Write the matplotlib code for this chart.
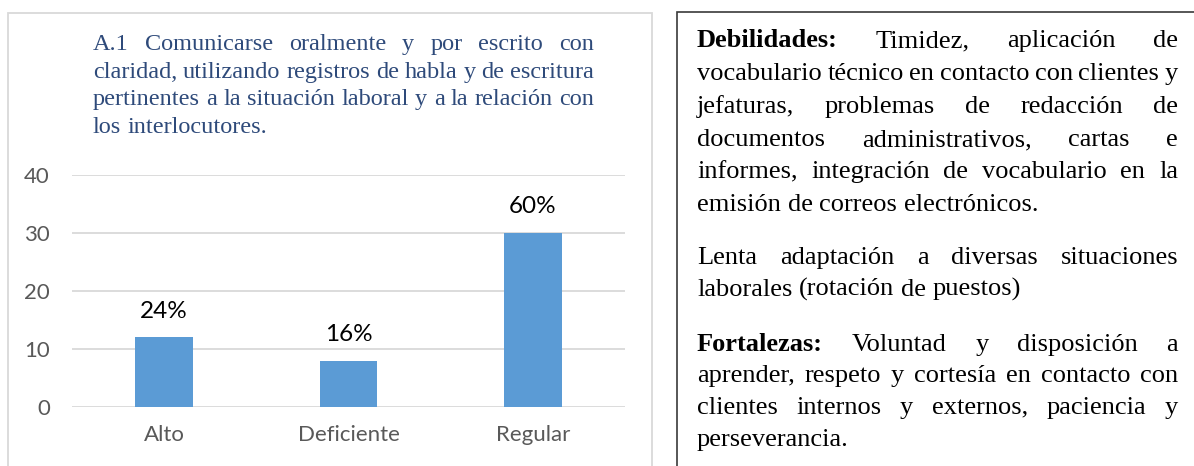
import matplotlib
matplotlib.use("Agg")
import matplotlib.pyplot as plt
from matplotlib.patches import Rectangle

W, H = 1194, 466

categories = ["Alto", "Deficiente", "Regular"]
counts = [12, 8, 30]
pct_labels = ["24%", "16%", "60%"]
y_ticks = [0, 10, 20, 30, 40]

chart_title = [
    "A.1 Comunicarse oralmente y por escrito con",
    "claridad, utilizando registros de habla y de escritura",
    "pertinentes a la situación laboral y a la relación con",
    "los interlocutores.",
]

debilidades_lines = [
    "Timidez, aplicación de",
    "vocabulario técnico en contacto con clientes y",
    "jefaturas, problemas de redacción de",
    "documentos administrativos, cartas e",
    "informes, integración de vocabulario en la",
    "emisión de correos electrónicos.",
]
lenta_lines = [
    "Lenta adaptación a diversas situaciones",
    "laborales (rotación de puestos)",
]
fortalezas_lines = [
    "Voluntad y disposición a",
    "aprender, respeto y cortesía en contacto con",
    "clientes internos y externos, paciencia y",
    "perseverancia.",
]

SANS = ["Lato", "DejaVu Sans"]
SERIF = ["Liberation Serif", "DejaVu Serif"]


def fx(px):
    return px / W


def fy(py):
    return 1 - py / H


fig = plt.figure(figsize=(W / 100, H / 100), dpi=100)
renderer = fig.canvas.get_renderer()


def draw_line(words, x0, x1, y, justify, size, color):
    # words: list of (text, weight); justified lines spread the gaps to x1
    objs = []
    widths = []
    for w, weight in words:
        t = fig.text(fx(x0), fy(y), w, fontsize=size, family=SERIF,
                     weight=weight, color=color, va="baseline", ha="left")
        objs.append(t)
        widths.append(t.get_window_extent(renderer).width)
    if justify and len(words) > 1:
        gap = (x1 - x0 - sum(widths)) / (len(words) - 1)
    else:
        sp = fig.text(0, 0, "a a", fontsize=size, family=SERIF)
        sp2 = fig.text(0, 0, "aa", fontsize=size, family=SERIF)
        gap = sp.get_window_extent(renderer).width - sp2.get_window_extent(renderer).width
        sp.remove()
        sp2.remove()
    x = x0
    for t, wd in zip(objs, widths):
        t.set_x(fx(x))
        x += wd + gap


# chart frame (light grey) and text box frame (dark)
fig.patches.append(Rectangle((fx(8), fy(470)), fx(652 - 8), (470 - 13) / H,
                             transform=fig.transFigure, fill=False,
                             edgecolor="#D9D9D9", linewidth=1.3))
fig.patches.append(Rectangle((fx(677), fy(480)), fx(560), (480 - 12) / H,
                             transform=fig.transFigure, fill=False,
                             edgecolor="#3a3a3a", linewidth=1.2))

# chart title
title_base = [50, 78, 105, 133]
for i, line in enumerate(chart_title):
    words = [(w, "normal") for w in line.split()]
    draw_line(words, 93, 594, title_base[i], i < len(chart_title) - 1, 17.5, "#2E4A7A")

# bar chart
ax = fig.add_axes([fx(72), fy(407), fx(625 - 72), (407 - 175) / H])
x = list(range(len(categories)))
ax.bar(x, counts, width=0.314, color="#5B9BD5", zorder=2)
ax.set_xlim(-0.5, 2.5)
ax.set_ylim(0, 40)
ax.set_yticks(y_ticks)
ax.set_xticks(x)
ax.set_xticklabels(categories)
ax.yaxis.grid(True, color="#D9D9D9", linewidth=1.3, zorder=0)
ax.set_axisbelow(True)
for s in ax.spines.values():
    s.set_visible(False)
ax.tick_params(axis="y", length=0, pad=16, labelsize=16, labelcolor="#595959")
ax.tick_params(axis="x", length=0, pad=13, labelsize=16, labelcolor="#595959")
for lab in ax.get_xticklabels() + ax.get_yticklabels():
    lab.set_family(SANS)
for i, (v, lbl) in enumerate(zip(counts, pct_labels)):
    ax.annotate(lbl, (i, v), xytext=(0, 19), textcoords="offset points",
                ha="center", va="center", fontsize=17.5, family=SANS, color="black")

# right text box
BX0, BX1 = 697, 1178
SIZE = 19


def paragraph(lines, lead, baselines):
    for i, line in enumerate(lines):
        words = [(w, "normal") for w in line.split()]
        if i == 0 and lead:
            words = [(lead, "bold")] + words
        draw_line(words, BX0, BX1, baselines[i], i < len(lines) - 1, SIZE, "black")


paragraph(debilidades_lines, "Debilidades:", [47, 80, 113, 146, 178, 211])
paragraph(lenta_lines, None, [264, 296])
paragraph(fortalezas_lines, "Fortalezas:", [351, 382, 414, 446])

fig.savefig("out.png", dpi=100)
